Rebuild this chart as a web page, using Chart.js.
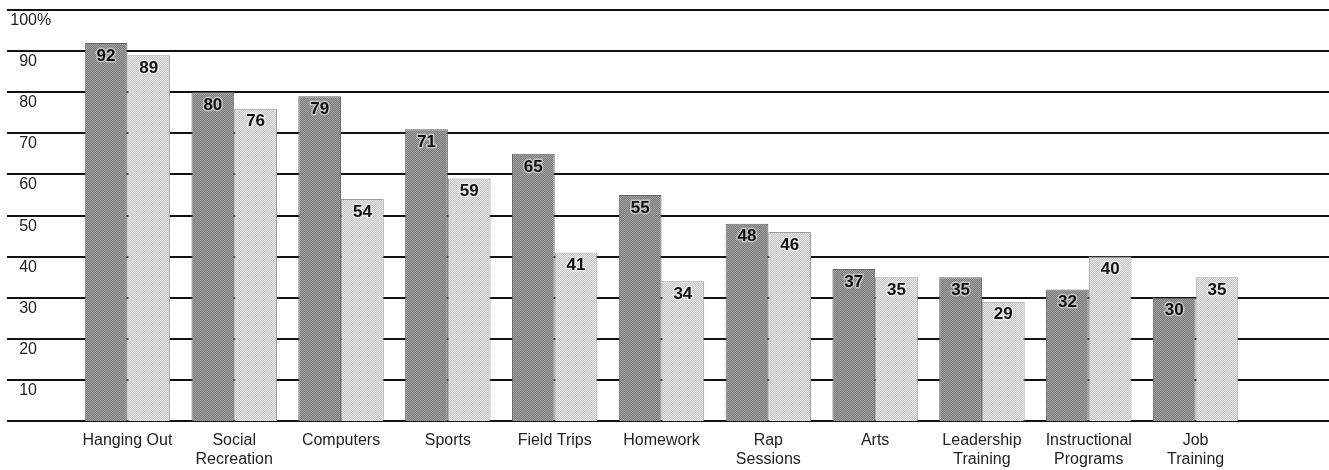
<!DOCTYPE html>
<html>
<head>
<meta charset="utf-8">
<script src="https://cdn.jsdelivr.net/npm/chart.js@4.4.1/dist/chart.umd.min.js"></script>
<style>
  html, body { margin: 0; padding: 0; background: #fff; }
  #wrap { width: 1329px; height: 470px; }
</style>
</head>
<body>
<div id="wrap"><canvas id="chart" width="1329" height="470"></canvas></div>
<script>
// Activities offered, two groups of respondents (percent)
const categories = [
  'Hanging Out',
  ['Social', 'Recreation'],
  'Computers',
  'Sports',
  'Field Trips',
  'Homework',
  ['Rap', 'Sessions'],
  'Arts',
  ['Leadership', 'Training'],
  ['Instructional', 'Programs'],
  ['Job', 'Training']
];
const seriesDark  = [92, 80, 79, 71, 65, 55, 48, 37, 35, 32, 30];
const seriesLight = [89, 76, 54, 59, 41, 34, 46, 35, 29, 40, 35];
const yTicks      = [0, 10, 20, 30, 40, 50, 60, 70, 80, 90, 100];
const yTickLabels = ['', '10', '20', '30', '40', '50', '60', '70', '80', '90', '100'];

const FONT = '"Liberation Sans", Arial, Helvetica, sans-serif';

// Fine halftone-like fill for the bars
function halftone(a, b) {
  const c = document.createElement('canvas');
  c.width = 2; c.height = 2;
  const g = c.getContext('2d');
  g.fillStyle = a; g.fillRect(0, 0, 2, 2);
  g.fillStyle = b; g.fillRect(0, 0, 1, 1); g.fillRect(1, 1, 1, 1);
  return g.createPattern(c, 'repeat');
}

// Horizontal rules across the full width, with the value labels under each rule
const rulesPlugin = {
  id: 'rules',
  beforeDatasetsDraw(chart) {
    const { ctx, scales: { y }, width } = chart;
    ctx.save();
    ctx.strokeStyle = '#111';
    ctx.lineWidth = 2;
    yTicks.forEach((v, i) => {
      const py = Math.round(y.getPixelForValue(v));
      ctx.beginPath();
      ctx.moveTo(7, py);
      ctx.lineTo(width, py);
      ctx.stroke();
      const txt = yTickLabels[i];
      if (txt) {
        ctx.font = '16px ' + FONT;
        ctx.fillStyle = '#222';
        ctx.textBaseline = 'middle';
        ctx.textAlign = 'right';
        ctx.fillText(txt, 37, py + 11);
        if (v === 100) {
          ctx.textAlign = 'left';
          ctx.fillText('%', 37, py + 11);
        }
      }
    });
    ctx.restore();
  }
};

// Value printed near the top of each bar
const valuePlugin = {
  id: 'values',
  afterDatasetsDraw(chart) {
    const { ctx } = chart;
    ctx.save();
    ctx.font = 'bold 17px ' + FONT;
    ctx.textAlign = 'center';
    ctx.textBaseline = 'middle';
    ctx.lineJoin = 'round';
    chart.data.datasets.forEach((ds, di) => {
      const meta = chart.getDatasetMeta(di);
      meta.data.forEach((bar, i) => {
        const label = String(ds.data[i]);
        const ty = bar.y + 13;
        ctx.strokeStyle = di === 0 ? 'rgba(210,210,210,0.75)' : 'rgba(236,236,236,0.75)';
        ctx.lineWidth = 3;
        ctx.strokeText(label, bar.x, ty);
        ctx.fillStyle = '#111';
        ctx.fillText(label, bar.x, ty);
      });
    });
    ctx.restore();
  }
};

new Chart(document.getElementById('chart'), {
  type: 'bar',
  data: {
    labels: categories,
    datasets: [
      {
        data: seriesDark,
        backgroundColor: halftone('#7c7c7c', '#a0a0a0'),
        borderColor: '#666',
        borderWidth: 1,
        borderSkipped: 'bottom'
      },
      {
        data: seriesLight,
        backgroundColor: halftone('#c6c6c6', '#e6e6e6'),
        borderColor: '#9c9c9c',
        borderWidth: 1,
        borderSkipped: 'bottom'
      }
    ]
  },
  options: {
    responsive: false,
    animation: false,
    devicePixelRatio: 1,
    layout: { padding: { left: 74, right: 80, top: 10, bottom: 0 } },
    plugins: {
      legend: { display: false },
      tooltip: { enabled: false }
    },
    datasets: {
      bar: { categoryPercentage: 0.8, barPercentage: 1.0 }
    },
    scales: {
      x: {
        grid: { display: false, drawTicks: false },
        border: { display: false },
        ticks: {
          color: '#222',
          font: { family: FONT, size: 16 },
          padding: 10,
          maxRotation: 0,
          autoSkip: false
        },
        afterFit(scale) { scale.height = 49; }
      },
      y: {
        display: false,
        min: 0,
        max: 100,
        ticks: { stepSize: 10 }
      }
    }
  },
  plugins: [rulesPlugin, valuePlugin]
});
</script>
</body>
</html>
